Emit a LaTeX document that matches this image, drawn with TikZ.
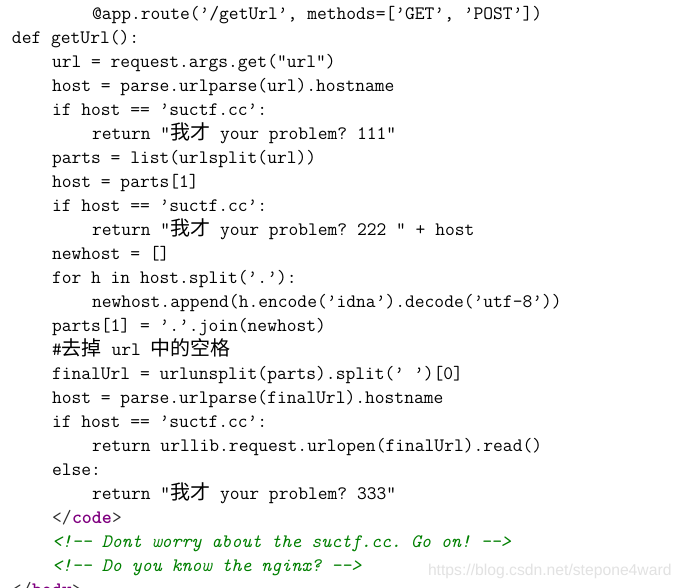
\documentclass[tikz,border=0pt]{standalone}
\usepackage{fontspec}
\newfontfamily\cjk{Noto Sans CJK SC}
\newfontfamily\wmfont{Liberation Sans}
\definecolor{cmtgreen}{HTML}{008000}
\definecolor{tagpurple}{HTML}{800080}
\definecolor{tagdark}{HTML}{303030}
\definecolor{wmgray}{HTML}{E2E2E2}
\newcommand\zh[1]{{\cjk\fontsize{20}{24}\selectfont #1}}
\newcommand\cl[4]{\node[codetext] (#1) at ({12+10*#3},{19+24*(#2-1)}) {#4};}
\frenchspacing
\begin{document}
\begin{tikzpicture}[x=1pt,y=-1pt,
  codetext/.style={inner sep=0pt, outer sep=0pt, anchor=base west, text=black,
    font=\ttfamily\fontsize{19}{24}\selectfont},
  cmt/.style={codetext, text=cmtgreen, font=\ttfamily\itshape\fontsize{19}{24}\selectfont},
  tagname/.style={codetext, text=tagpurple, font=\ttfamily\bfseries\fontsize{19}{24}\selectfont},
  tagmark/.style={codetext, text=tagdark},
  watermark/.style={inner sep=0pt, outer sep=0pt, anchor=base west, text=wmgray,
    font=\wmfont\fontsize{15.7}{18}\selectfont}]
\useasboundingbox (0,0) rectangle (682,587);
\clip (0,0) rectangle (682,587);
\fill[white] (0,0) rectangle (682,587);
\cl{l1}{1}{8}{@app.route(’/getUrl’, methods=[’GET’, ’POST’])}
\cl{l2}{2}{0}{def getUrl():}
\cl{l3}{3}{4}{url = request.args.get(”url”)}
\cl{l4}{4}{4}{host = parse.urlparse(url).hostname}
\cl{l5}{5}{4}{if host == ’suctf.cc’:}
\cl{l6}{6}{8}{return ”\zh{我才} your problem? 111”}
\cl{l7}{7}{4}{parts = list(urlsplit(url))}
\cl{l8}{8}{4}{host = parts[1]}
\cl{l9}{9}{4}{if host == ’suctf.cc’:}
\cl{l10}{10}{8}{return ”\zh{我才} your problem? 222 ” + host}
\cl{l11}{11}{4}{newhost = []}
\cl{l12}{12}{4}{for h in host.split(’.’):}
\cl{l13}{13}{8}{newhost.append(h.encode(’idna’).decode(’utf-8’))}
\cl{l14}{14}{4}{parts[1] = ’.’.join(newhost)}
\cl{l15}{15}{4}{\#\zh{去掉} url \zh{中的空格}}
\cl{l16}{16}{4}{finalUrl = urlunsplit(parts).split(’ ’)[0]}
\cl{l17}{17}{4}{host = parse.urlparse(finalUrl).hostname}
\cl{l18}{18}{4}{if host == ’suctf.cc’:}
\cl{l19}{19}{8}{return urllib.request.urlopen(finalUrl).read()}
\cl{l20}{20}{4}{else:}
\cl{l21}{21}{8}{return ”\zh{我才} your problem? 333”}
% </code>
\node[tagmark] (l22a) at (52,523) {</};
\node[tagname] (l22b) at (72,523) {code};
\node[tagmark] (l22c) at (112,523) {>};
% comments
\node[cmt] (l23) at (52,547) {<!-{}- Dont worry about the suctf.cc. Go on! -{}->};
\node[cmt] (l24) at (52,571) {<!-{}- Do you know the nginx? -{}->};
% </body>
\node[tagmark] (l25a) at (12,595) {</};
\node[tagname] (l25b) at (32,595) {body};
\node[tagmark] (l25c) at (72,595) {>};
% watermark
\node[watermark] (wm) at (428,575) {https://blog.csdn.net/stepone4ward};
\end{tikzpicture}
\end{document}
